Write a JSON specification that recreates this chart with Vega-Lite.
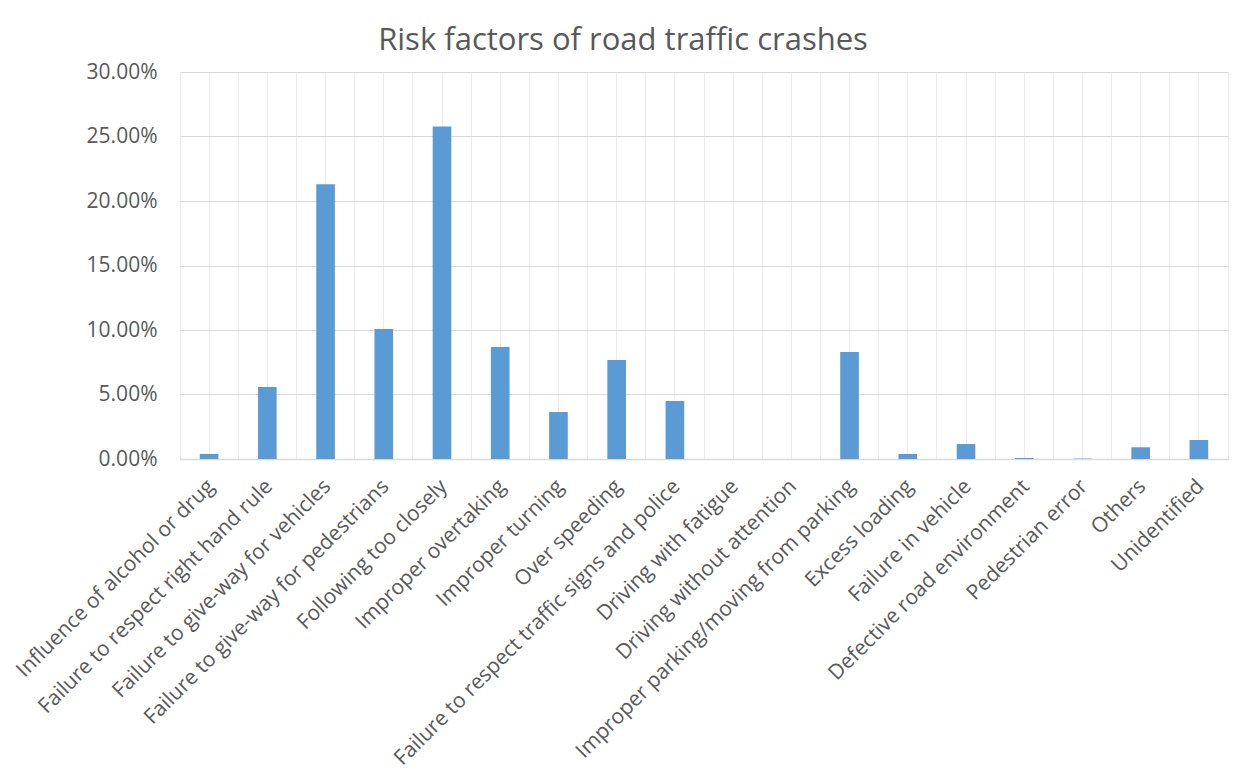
{
  "$schema": "https://vega.github.io/schema/vega-lite/v6.json",
  "autosize": "none",
  "width": 1048,
  "height": 387,
  "padding": {"left": 180, "top": 72, "right": 16, "bottom": 324},
  "background": "white",
  "title": {
    "text": "Risk factors of road traffic crashes",
    "font": "Open Sans",
    "fontSize": 31,
    "fontWeight": "normal",
    "color": "#595959",
    "anchor": "middle",
    "dx": -81,
    "offset": 4
  },
  "config": {
    "view": {"stroke": null},
    "axis": {"labelFont": "Open Sans", "labelColor": "#595959", "labelFontSize": 21}
  },
  "data": {
    "values": [
      {"factor": "Influence of alcohol or drug", "value": 0.0039},
      {"factor": "Failure to respect right hand rule", "value": 0.0558},
      {"factor": "Failure to give-way for vehicles", "value": 0.2130},
      {"factor": "Failure to give-way for pedestrians", "value": 0.1008},
      {"factor": "Following too closely", "value": 0.2578},
      {"factor": "Improper overtaking", "value": 0.0868},
      {"factor": "Improper turning", "value": 0.0364},
      {"factor": "Over speeding", "value": 0.0767},
      {"factor": "Failure to respect traffic signs and police", "value": 0.0450},
      {"factor": "Driving with fatigue", "value": 0},
      {"factor": "Driving without attention", "value": 0},
      {"factor": "Improper parking/moving from parking", "value": 0.0829},
      {"factor": "Excess loading", "value": 0.0039},
      {"factor": "Failure in vehicle", "value": 0.0116},
      {"factor": "Defective road environment", "value": 0.0008},
      {"factor": "Pedestrian error", "value": 0.0003},
      {"factor": "Others", "value": 0.0091},
      {"factor": "Unidentified", "value": 0.0147}
    ]
  },
  "layer": [
    {
      "mark": {"type": "bar", "opacity": 0},
      "encoding": {
        "x": {
          "field": "factor", "type": "nominal", "sort": null,
          "scale": {"paddingInner": 0.68, "paddingOuter": 0.34},
          "axis": {"bandPosition": -1.0625, "grid": true, "gridColor": "#ececec", "labels": false, "ticks": false, "domain": false, "title": null, "orient": "bottom"}
        },
        "y": {
          "field": "value", "type": "quantitative",
          "scale": {"domain": [0, 0.3]},
          "axis": {
            "title": null, "format": ".2%", "values": [0, 0.05, 0.1, 0.15, 0.2, 0.25, 0.3],
            "domain": false, "ticks": false, "gridColor": "#d9d9d9", "labelPadding": 23
          }
        }
      }
    },
    {
      "mark": {"type": "bar", "opacity": 0},
      "encoding": {
        "x": {
          "field": "factor", "type": "nominal", "sort": null,
          "axis": {"bandPosition": 2.0625, "grid": true, "gridColor": "#ececec", "labels": false, "ticks": false, "domain": false, "title": null, "orient": "bottom"}
        },
        "y": {
          "field": "value", "type": "quantitative",
          "axis": {
            "title": null, "format": ".2%", "values": [0, 0.05, 0.1, 0.15, 0.2, 0.25, 0.3],
            "domain": false, "ticks": false, "gridColor": "#d9d9d9", "labelPadding": 23
          }
        }
      }
    },
    {
      "mark": {"type": "bar", "color": "#5B9BD5"},
      "encoding": {
        "x": {
          "field": "factor", "type": "nominal", "sort": null,
          "axis": {
            "title": null, "labelAngle": -45, "labelAlign": "right", "labelBaseline": "middle",
            "labelPadding": 24, "labelOffset": 2, "ticks": false, "domainColor": "#d9d9d9", "domainWidth": 1.5,
            "grid": true, "gridColor": "#ececec", "labelLimit": 0, "orient": "bottom"
          }
        },
        "y": {
          "field": "value", "type": "quantitative",
          "axis": {
            "title": null, "format": ".2%", "values": [0, 0.05, 0.1, 0.15, 0.2, 0.25, 0.3],
            "domain": false, "ticks": false, "gridColor": "#d9d9d9", "labelPadding": 23
          }
        }
      }
    }
  ],
  "resolve": {"axis": {"x": "independent"}}
}
